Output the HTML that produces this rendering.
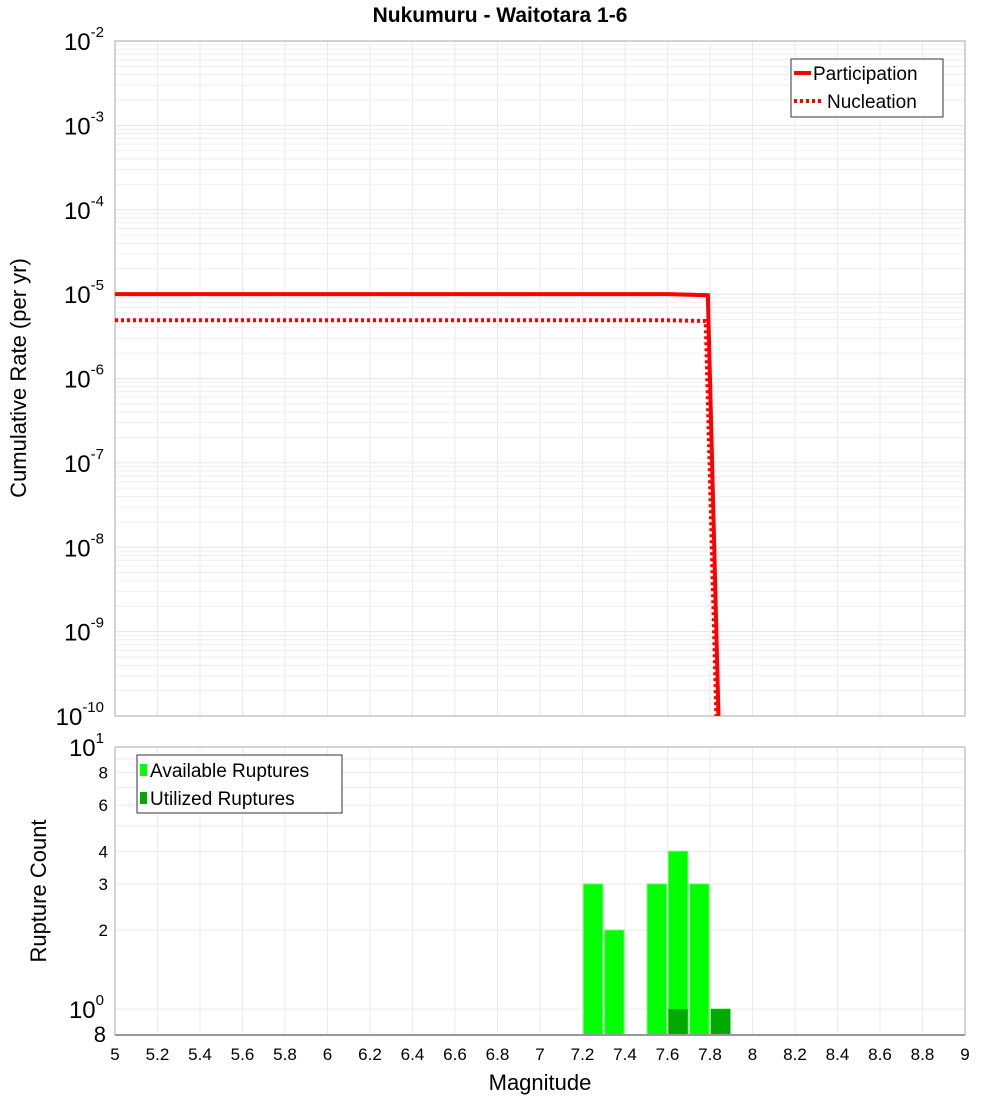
<!DOCTYPE html>
<html><head><meta charset="utf-8"><style>
body{margin:0;background:#fff;}
svg{display:block;font-family:"Liberation Sans","DejaVu Sans",sans-serif;}
</style></head><body>
<svg id="c" width="1000" height="1100" xmlns="http://www.w3.org/2000/svg">
<text x="500" y="22" text-anchor="middle" font-size="21" font-weight="bold">Nukumuru - Waitotara 1-6</text>
<g id="topg"></g><g id="botg"></g>
</svg>
<script>
const xTicks=[5,5.2,5.4,5.6,5.8,6,6.2,6.4,6.6,6.8,7,7.2,7.4,7.6,7.8,8,8.2,8.4,8.6,8.8,9];
const partM=[5,7.6,7.79,7.84];
const partR=[1e-5,1e-5,0.97e-5,1e-10];
const nuclM=[5,7.6,7.78,7.83];
const nuclR=[4.9e-6,4.9e-6,4.8e-6,1e-10];
const binM=[7.25,7.35,7.55,7.65,7.75,7.85];
const availCount=[3,2,3,4,3,1];
const usedCount=[0,0,0,1,0,1];
const topExp=[-2,-3,-4,-5,-6,-7,-8,-9,-10];
const botTicks=[8,6,4,3,2];
const NS='http://www.w3.org/2000/svg';
const svg=document.getElementById('c');
function mk(t,a,p,txt){const e=document.createElementNS(NS,t);for(const k in a)e.setAttribute(k,a[k]);if(txt!==undefined)e.textContent=txt;(p||svg).appendChild(e);return e;}
const X0=115,X1=965;
const x=m=>X0+(m-5)/4*(X1-X0);
const T0=41,T1=716;
const yT=r=>T0+(-2-Math.log10(r))/8*(T1-T0);
const B0=747,B1=1035;
const yB=v=>1009-Math.log10(v)*262;
const topG=document.getElementById('topg'),botG=document.getElementById('botg');
for(let e=-10;e<-2;e++)for(let k=1;k<10;k++){const y=yT(k*Math.pow(10,e));
 const l=mk('line',{x1:X0,x2:X1,y1:y,y2:y,stroke:k==1?'#e4e4e4':'#efefef','stroke-width':1},topG);
 
 }
xTicks.forEach(t=>{const l=mk('line',{x1:x(t),x2:x(t),y1:T0,y2:T1,stroke:'#ebebeb'},topG);
 
 
 const l2=mk('line',{x1:x(t),x2:x(t),y1:B0,y2:B1,stroke:'#ebebeb'},botG);
 
 });
const tf=mk('rect',{x:X0,y:T0,width:X1-X0,height:T1-T0,fill:'none',stroke:'#aaa'},topG);


topExp.forEach(e=>{const y=yT(Math.pow(10,e));
 const t=mk('text',{x:104,y:y+9,'text-anchor':'end','font-size':24},topG);
 
 
 t.textContent='10';mk('tspan',{dy:-13,'font-size':15},t,String(e));});
const yl=mk('text',{x:26,y:378,'text-anchor':'middle','font-size':22,transform:'rotate(-90 26 378)'},topG,'Cumulative Rate (per yr)');


const cp=mk('clipPath',{id:'cl'});mk('rect',{x:X0,y:T0,width:X1-X0,height:T1-T0},cp);
const pp=mk('polyline',{points:partM.map((m,i)=>x(m)+','+yT(partR[i])).join(' '),fill:'none',stroke:'#ff0000','stroke-width':4,'clip-path':'url(#cl)'},topG);


const np=mk('polyline',{points:nuclM.map((m,i)=>x(m)+','+yT(nuclR[i])).join(' '),fill:'none',stroke:'#ff0000','stroke-width':4,'stroke-dasharray':'3 3','clip-path':'url(#cl)'},topG);


const lg=mk('g',{},topG);


mk('rect',{x:791,y:59,width:152,height:58,fill:'#fff',stroke:'#333'},lg);
mk('line',{x1:794,x2:811,y1:73,y2:73,stroke:'#f00','stroke-width':4},lg);
mk('text',{x:813,y:80,'font-size':19},lg,'Participation');
mk('line',{x1:794,x2:822,y1:101,y2:101,stroke:'#f00','stroke-width':4,'stroke-dasharray':'3 3'},lg);
mk('text',{x:827,y:108,'font-size':19},lg,'Nucleation');
[1,2,3,4,5,6,7,8,9,10].forEach(v=>{const y=yB(v);const l=mk('line',{x1:X0,x2:X1,y1:y,y2:y,stroke:'#ebebeb'},botG);
 
 });
const bf=mk('rect',{x:X0,y:B0,width:X1-X0,height:B1-B0,fill:'none',stroke:'#aaa'},botG);


const bw=(x(5.1)-x(5))-2;
binM.forEach((m,i)=>{const r=mk('rect',{x:x(m-0.05)+1,y:yB(availCount[i]),width:bw,height:B1-yB(availCount[i]),fill:'#00ff00',stroke:'#55ff55','stroke-width':1},botG);
 
 
 if(usedCount[i]>0){const u=mk('rect',{x:x(m-0.05)+1,y:yB(usedCount[i]),width:bw,height:B1-yB(usedCount[i]),fill:'#00aa00'},botG);
 
 }});
mk('line',{x1:X0,x2:X1,y1:B1,y2:B1,stroke:'#999','stroke-width':2},botG);
botTicks.forEach(v=>{const t=mk('text',{x:108,y:yB(v)+6,'text-anchor':'end','font-size':17},botG,String(v));
 
 });
[[10,1],[1,0]].forEach(([v,e])=>{const t=mk('text',{x:104,y:yB(v)+9,'text-anchor':'end','font-size':24},botG);
 
 
 t.textContent='10';mk('tspan',{dy:-13,'font-size':15},t,String(e));});
const b8=mk('text',{x:106,y:1042,'text-anchor':'end','font-size':22},botG,'8');


const yl2=mk('text',{x:46,y:891,'text-anchor':'middle','font-size':22,transform:'rotate(-90 46 891)'},botG,'Rupture Count');


xTicks.forEach(t=>{const e=mk('text',{x:x(t),y:1060,'text-anchor':'middle','font-size':17},botG,String(t));
 
 });
const xl=mk('text',{x:540,y:1090,'text-anchor':'middle','font-size':22},botG,'Magnitude');


const lg2=mk('g',{},botG);


mk('rect',{x:137,y:755,width:205,height:58,fill:'#fff',stroke:'#333'},lg2);
mk('rect',{x:140,y:764,width:7,height:12,fill:'#00ff00'},lg2);
mk('text',{x:150,y:777,'font-size':19},lg2,'Available Ruptures');
mk('rect',{x:140,y:792,width:7,height:12,fill:'#00aa00'},lg2);
mk('text',{x:150,y:805,'font-size':19},lg2,'Utilized Ruptures');
</script>
</body></html>
